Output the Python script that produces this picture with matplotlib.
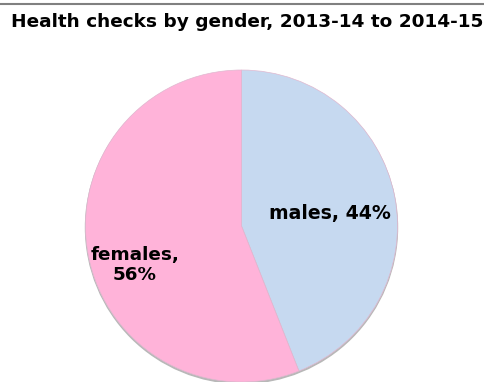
import matplotlib
matplotlib.use("Agg")
import matplotlib.pyplot as plt
from matplotlib.patches import Circle
from matplotlib.lines import Line2D

categories = ["males", "females"]
values = [44, 56]
colors = ["#C6D9F0", "#FFB3D9"]

W, H = 485, 382
fig = plt.figure(figsize=(W / 100, H / 100), dpi=100)
ax = fig.add_axes([0, 0, 1, 1])
ax.set_xlim(0, W)
ax.set_ylim(0, H)
ax.axis("off")

cx, cy, r = 241.5, H - 226, 156

# subtle shadow
ax.add_patch(Circle((cx, cy - 1.5), r, color="#b8b8b8", zorder=0))

wedges, _ = ax.pie(values, colors=colors, startangle=90, counterclock=False,
                   center=(cx, cy), radius=r, frame=True,
                   wedgeprops=dict(linewidth=0.5, edgecolor="#e0b8d0"))
for w in wedges:
    w.set_zorder(1)
ax.set_xlim(0, W)
ax.set_ylim(0, H)
ax.set_aspect("equal", adjustable="box")
ax.axis("off")

ax.text(330, H - 214, f"{categories[0]}, {values[0]}%", ha="center", va="center",
        fontsize=13.6, fontweight="bold", color="black", zorder=3)
ax.text(135, H - 265, f"{categories[1]},\n{values[1]}%", ha="center", va="center",
        fontsize=13.2, fontweight="bold", color="black", linespacing=1.2, zorder=3)

fig.text(247 / W, 1 - 22 / H, "Health checks by gender, 2013-14 to 2014-15", ha="center",
         va="center", fontsize=13.3, fontweight="bold", color="black")

fig.add_artist(Line2D([0, 1], [1 - 4 / H, 1 - 4 / H], color="#808080", linewidth=1.5,
                      transform=fig.transFigure))

fig.savefig("out.png", dpi=100)
